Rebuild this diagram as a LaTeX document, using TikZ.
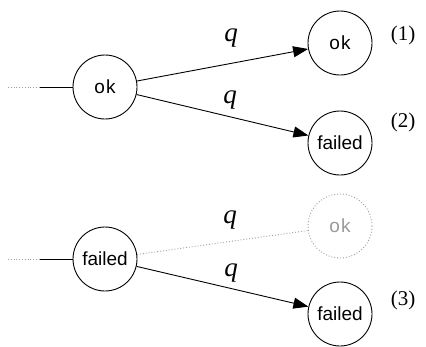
\documentclass[tikz,border=0pt]{standalone}
\usepackage{fontspec}
\setmainfont{Liberation Serif}
\setsansfont{Liberation Sans}
\usetikzlibrary{arrows.meta}
\definecolor{ghost}{HTML}{9A9A9A}
\tikzset{
  state/.style={circle, draw, line width=0.9pt, minimum size=64pt, inner sep=0pt,
    font=\sffamily\fontsize{19}{19}\selectfont},
  ghoststate/.style={state, draw=ghost, dotted, text=ghost},
  trans/.style={line width=0.9pt, -{Triangle[length=15pt,width=11pt]}},
  ghosttrans/.style={line width=0.9pt, draw=ghost, dotted},
  prob/.style={font=\fontsize{27}{27}\selectfont\itshape},
  tag/.style={font=\fontsize{21}{21}\selectfont},
  stub/.style={line width=0.9pt},
  stubdot/.style={line width=0.8pt, dotted, draw=ghost}
}
\begin{document}
\begin{tikzpicture}[x=1pt, y=-1pt]
  \useasboundingbox (0,0) rectangle (426,346);

  % upper branch: ok state
  \node[state] (ok1) at (105,87) {o\kern1pt k};
  \node[state] (okA) at (340,43) {o\kern1pt k};
  \node[state] (failB) at (340,143) {failed};
  \coordinate (in1d) at (8,87);
  \coordinate (in1s) at (40,87);
  \draw[stubdot] (in1d) -- (in1s);
  \draw[stub] (in1s) -- (ok1);
  \draw[trans] (ok1) -- (okA);
  \draw[trans] (ok1) -- (failB);
  \node[prob] (q1) at (231,38) {q};
  \node[prob] (q2) at (230,100) {q};
  \node[tag] (t1) at (403,35) {(1)};
  \node[tag] (t2) at (403,122) {(2)};

  % lower branch: failed state
  \node[state] (fail1) at (105,259) {failed};
  \node[ghoststate] (okC) at (340,226) {o\kern1pt k};
  \node[state] (failD) at (340,314) {failed};
  \coordinate (in2d) at (8,259);
  \coordinate (in2s) at (40,259);
  \draw[stubdot] (in2d) -- (in2s);
  \draw[stub] (in2s) -- (fail1);
  \draw[ghosttrans] (fail1) -- (okC);
  \draw[trans] (fail1) -- (failD);
  \node[prob] (q3) at (230,220) {q};
  \node[prob] (q4) at (231,273) {q};
  \node[tag] (t3) at (403,300) {(3)};
\end{tikzpicture}
\end{document}
